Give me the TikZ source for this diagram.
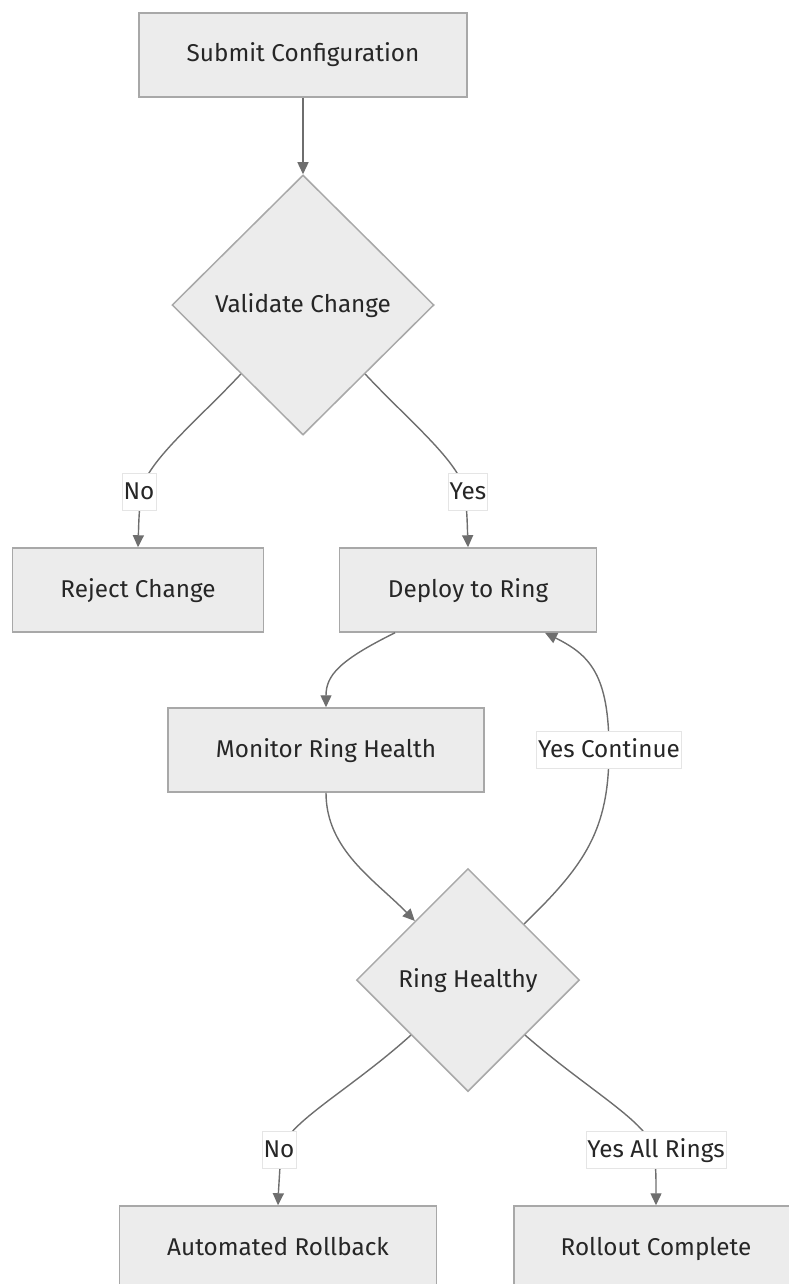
\documentclass[tikz,border=0pt]{standalone}
\usepackage{fontspec}
\setmainfont{Fira Sans}
\usetikzlibrary{positioning,shapes.geometric,arrows.meta}
\definecolor{boxfill}{HTML}{ECECEC}
\definecolor{boxline}{HTML}{A8A8A8}
\definecolor{flowline}{HTML}{6E6E6E}

\begin{document}
\begin{tikzpicture}
        [
        x=1pt, y=-1pt,
        every node/.style={font=\fontsize{24.3}{29}\selectfont, text=black!85, text height=18pt, text depth=4pt},
        process/.style={rectangle, draw=boxline, line width=1.5pt, fill=boxfill, minimum height=84pt},
        decision/.style={diamond, draw=boxline, line width=1.5pt, fill=boxfill, inner sep=0pt},
        flow/.style={draw=flowline, line width=1.4pt, -{Triangle[length=12pt,width=11pt]}},
        edgelabel/.style={fill=white, draw=black!10, line width=0.6pt, inner sep=1.5pt, minimum height=37pt}
        ]
        \useasboundingbox (0,0) rectangle (789,1284);
        \clip (0,0) rectangle (789,1284);
        % Start and first check
        \node[process, minimum width=328pt] (submit) at (303,55) {Submit Configuration};
        \node[decision, minimum width=262pt, minimum height=260pt] (validate) at (303,305) {Validate Change};
        % Level 1: result of the check
        \node[process, minimum width=251pt] (reject) at (138,590) {Reject Change};
        \node[process, minimum width=257pt] (deploy) at (468,590) {Deploy to Ring};
        % Ring loop
        \node[process, minimum width=316pt] (monitor) at (326,750) {Monitor Ring Health};
        \node[decision, minimum width=223pt, minimum height=223pt] (healthy) at (468,980) {Ring Healthy};
        % Level 3: end states
        \node[process, minimum width=317pt] (rollback) at (278,1248) {Automated Rollback};
        \node[process, minimum width=284pt] (complete) at (656,1248) {Rollout Complete};

        % Connectors
        \draw[flow] (submit) -- (validate);
        \draw[flow] (validate.-132) .. controls (198,420) and (146,462) .. (141,492)
            node[edgelabel] at (139,492) {No} .. controls (139,515) .. (reject.north);
        \draw[flow] (validate.-48) .. controls (408,420) and (460,462) .. (465,492)
            node[edgelabel] at (468,492) {Yes} .. controls (467,515) .. (deploy.north);
        \draw[flow] ([xshift=-73pt]deploy.south) .. controls (340,660) and (326,675) .. (monitor.north);
        \draw[flow] (monitor.south) .. controls (326,850) and (375,880) .. (healthy.132);
        \draw[flow] (healthy.45) .. controls (585,865) and (609,830) .. (609,750)
            node[edgelabel] at (609,750) {Yes Continue} .. controls (609,675) and (590,655) .. ([xshift=77pt]deploy.south);
        \draw[flow] (healthy.-136) .. controls (350,1090) and (288,1122) .. (281,1150)
            node[edgelabel] at (279,1150) {No} .. controls (279,1172) .. (rollback.north);
        \draw[flow] (healthy.-44) .. controls (588,1090) and (648,1122) .. (654,1150)
            node[edgelabel] at (656,1150) {Yes All Rings} .. controls (656,1172) .. (complete.north);
\end{tikzpicture}
\end{document}
